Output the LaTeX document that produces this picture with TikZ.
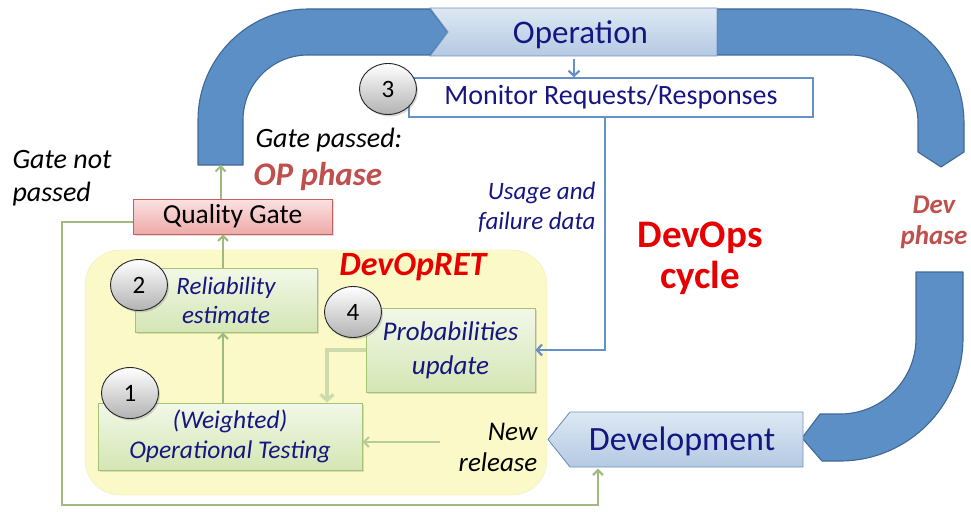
\documentclass[tikz,border=0pt]{standalone}
\usepackage{fontspec}
\setmainfont{Carlito}
\usetikzlibrary{arrows.meta,shapes.geometric,shadows,calc}
\definecolor{arcblue}{RGB}{92,143,198}
\definecolor{arcedge}{RGB}{64,106,150}
\definecolor{chevtop}{RGB}{222,232,243}
\definecolor{chevbot}{RGB}{180,201,227}
\definecolor{chevedge}{RGB}{115,148,190}
\definecolor{navy}{RGB}{22,22,130}
\definecolor{rust}{RGB}{192,80,77}
\definecolor{brightred}{RGB}{232,0,0}
\definecolor{gline}{RGB}{160,186,125}
\definecolor{gfade}{RGB}{205,218,172}
\definecolor{gtop}{RGB}{242,248,232}
\definecolor{gbot}{RGB}{212,230,180}
\definecolor{gedge}{RGB}{165,195,115}
\definecolor{ptop}{RGB}{250,226,226}
\definecolor{pbot}{RGB}{238,170,168}
\definecolor{pedge}{RGB}{200,95,92}
\definecolor{yell}{RGB}{251,249,200}
\definecolor{yelledge}{RGB}{240,238,185}
\definecolor{mblue}{RGB}{100,145,200}
\newcommand\myfs[2]{\fontsize{#1}{#2}\selectfont}
\tikzset{
  bigarc/.style={fill=arcblue, draw=arcedge, line width=1.1pt, line join=round},
  chev/.style={top color=chevtop, bottom color=chevbot, draw=chevedge, line width=0.9pt},
  greenbox/.style={rectangle, top color=gtop, bottom color=gbot, draw=gedge, line width=1pt,
     drop shadow={shadow xshift=1.5pt, shadow yshift=-2pt, opacity=0.25}, text=navy, align=center, inner sep=0pt},
  numnode/.style={ellipse, minimum width=57, minimum height=51, inner sep=0pt, top color=white, bottom color=black!30,
     draw=black!85, line width=0.9pt, drop shadow={shadow xshift=1.5pt, shadow yshift=-2pt, opacity=0.3}, font=\myfs{25}{28}},
  garrow/.style={draw=gline, line width=2pt, -{Straight Barb[length=5pt,width=10pt]}},
  fadearrow/.style={draw=gfade, line width=3.2pt, -{Straight Barb[length=6pt,width=13pt]}},
  barrow/.style={draw=mblue, line width=2.2pt, -{Straight Barb[length=5pt,width=11pt]}},
}
\begin{document}
\begin{tikzpicture}[x=1pt,y=-1pt]
\useasboundingbox (0,0) rectangle (971,511);
\fill[white] (0,0) rectangle (971,511);
% big blue arcs
\path[bigarc] (198,165) -- (198,120) .. controls (198,59.25) and (247.25,9) .. (308,9)
  -- (430,9) -- (448,32.5) -- (430,55) -- (308,55) .. controls (272.1,55) and (243,84.1) .. (243,120)
  -- (243,165) -- cycle;
\coordinate (legbottom) at (220.5,165);
\path[bigarc] (717,9) -- (850,9) .. controls (913,9) and (964,60) .. (964,123) -- (964,152) -- (941,167)
  -- (918,152) -- (918,123) .. controls (918,85.4) and (887.6,55) .. (850,55) -- (717,55) -- cycle;
\path[bigarc] (916,272) -- (963,272) -- (963,338) .. controls (963,405.9) and (907.9,461) .. (840,461)
  -- (822,461) -- (802,438) -- (820,414) -- (840,414) .. controls (882,414) and (916,380) .. (916,338) -- cycle;
% chevrons
\path[chev] (430,8) -- (717,8) -- (717,56) -- (430,56) -- (448,32) -- cycle;
\node[minimum width=269, minimum height=48, inner sep=0pt, text=navy, font=\myfs{33}{36}] (op) at (580.5,35) {Operation};
\path[chev] (570,412) -- (803,412) -- (803,467) -- (570,467) -- (548,439.5) -- cycle;
\node[minimum width=233, minimum height=55, inner sep=0pt, text=navy, font=\myfs{34}{36}] (dev) at (682,441) {Development};
% monitor
\node[rectangle, draw=mblue, fill=white, line width=1.6pt, minimum width=404, minimum height=39, inner sep=0pt,
  text=navy, font=\myfs{28}{30}] (mon) at (611,97.5) {Monitor Requests/Responses};
% yellow region
\node[rectangle, rounded corners=35, fill=yell, draw=yelledge, minimum width=462, minimum height=245] (yel) at (316,372.5) {};
\node[text=brightred, font=\myfs{34}{36}\bfseries\itshape] (dret) at (413,267) {DevOpRET};
% boxes
\node[rectangle, top color=ptop, bottom color=pbot, draw=pedge, line width=1pt, minimum width=199, minimum height=35,
  inner sep=0pt, font=\myfs{27.5}{30}, drop shadow={shadow xshift=1.5pt, shadow yshift=-2pt, opacity=0.25}] (qg) at (232.5,216.5) {Quality Gate};
\node[greenbox, minimum width=182, minimum height=64, font=\myfs{25}{29}\itshape] (rel) at (226,300) {Reliability\\estimate};
\node[greenbox, minimum width=169, minimum height=84, font=\myfs{27}{34}\itshape] (prob) at (450.5,350) {Probabilities\\update};
\node[greenbox, minimum width=264, minimum height=67, font=\myfs{25.5}{30}\itshape] (wt) at (230,436.5) {(Weighted)\\Operational Testing};
% helper coordinates
\coordinate (ax) at (223,0);
\coordinate (mx) at (574,0);
\coordinate (ux) at (605,0);
\coordinate (px) at (327,0);
\coordinate (c1) at (62,222);
\coordinate (c2) at (62,505);
\coordinate (c3) at (598,505);
\coordinate (nr) at (440,442);
% connectors
\draw[garrow] (wt.north -| ax) -- (rel.south -| ax);
\draw[garrow] (rel.north -| ax) -- (qg.south -| ax);
\draw[garrow] (qg.north -| legbottom) -- (legbottom);
\draw[garrow] (qg.west |- c1) -- (c1) -- (c2) -- (c3) -- (dev.south -| c3);
\draw[fadearrow] (prob.west) -| (wt.north -| px);
\draw[garrow, draw=gline!75] (nr) -- (wt.east |- nr);
\draw[barrow] (op.south -| mx) -- (mon.north -| mx);
\draw[barrow] (mon.south -| ux) |- (prob.east);
% numbers
\node[numnode] (n3) at (388,89) {3};
\node[numnode] (n2) at (139,285) {2};
\node[numnode] (n4) at (353,312) {4};
\node[numnode] (n1) at (130,393) {1};
% labels
\node[anchor=west, font=\myfs{28}{30}\itshape] (gp) at (252,140) {Gate passed:};
\node[anchor=west, text=rust, font=\myfs{33}{34}\bfseries\itshape] (opph) at (250,177) {OP phase};
\node[anchor=west, align=left, font=\myfs{28}{33}\itshape] (gnp) at (9,178) {Gate not\\passed};
\node[anchor=east, align=right, text=navy, font=\myfs{25}{30}\itshape] (usage) at (599,207) {Usage and\\failure data};
\node[align=center, text=brightred, font=\myfs{39}{41}\bfseries] (cyc) at (700,258) {DevOps\\cycle};
\node[align=center, text=rust, font=\myfs{27}{31}\bfseries\itshape] (devph) at (934,222) {Dev\\phase};
\node[align=right, font=\myfs{27}{31}\itshape] (newrel) at (498,447) {New\\release};
\end{tikzpicture}
\end{document}
